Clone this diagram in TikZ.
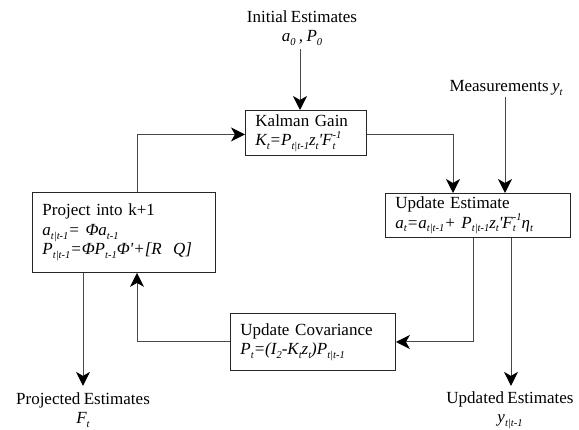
\documentclass[tikz,border=0pt]{standalone}
\usepackage{fontspec}
\setmainfont[WordSpace={0.8,0.8,0.8}]{Liberation Serif}
\usetikzlibrary{arrows.meta}
\newcommand{\mylo}[1]{\raisebox{-0.22em}{\fontsize{10.5}{10.5}\selectfont #1}}
\newcommand{\myhi}[1]{\raisebox{0.42em}{\fontsize{10.5}{10.5}\selectfont #1}}
\newcommand{\mylohi}[2]{\rlap{\mylo{#1}}\myhi{#2}}
\newcommand{\myprime}{\textquotesingle}
\begin{document}
\begin{tikzpicture}[x=1pt,y=-1pt,
  every node/.style={font=\fontsize{17}{19.5}\selectfont},
  box/.style={draw=black!85, line width=0.9pt, rectangle, align=left, inner xsep=10pt, inner ysep=2pt, anchor=north west},
  lbl/.style={align=center, inner sep=1pt},
  flow/.style={draw=black!72, line width=1pt, -{Stealth[length=14pt,width=14pt,inset=4pt,color=black]}}]
\useasboundingbox (0,0) rectangle (579,430);
\fill[white] (0,0) rectangle (579,430);
% boxes
\node[box, text width=101pt, minimum height=45pt] (kal) at (245,110)
  {Kalman Gain\\\textit{K\mylo{t}=P\mylo{t|t-1}z\mylo{t}\myprime F\mylohi{t}{-1}}};
\node[box, text width=165pt, minimum height=44pt] (upd) at (385,193)
  {Update Estimate\\\textit{a\mylo{t}=a\mylo{t|t-1}+ P\mylo{t|t-1}z\mylo{t}\myprime F\mylohi{t}{-1}η\mylo{t}}};
\node[box, text width=163pt, minimum height=80pt] (proj) at (32,192)
  {Project into k+1\\\textit{a\mylo{t|t-1}= Φa\mylo{t-1}}\\\textit{P\mylo{t|t-1}=ΦP\mylo{t-1}Φ\myprime+[R\ \ Q]}};
\node[box, text width=145pt, minimum height=57pt] (cov) at (230,313)
  {Update Covariance\\\textit{P\mylo{t}=(I\mylo{2}-K\mylo{t}z\mylo{t})P\mylo{t|t-1}}};
% labels
\node[lbl] (init) at (302,28) {Initial Estimates\\\textit{a\mylo{0} , P\mylo{0}}};
\node[lbl] (meas) at (506,88) {Measurements \textit{y\mylo{t}}};
\node[lbl] (projtxt) at (83,410) {Projected Estimates\\\textit{F\mylo{t}}};
\node[lbl] (updtxt) at (510,410) {Updated Estimates\\\textit{y\mylo{t|t-1}}};
% connectors
\draw[flow] ([xshift=-2pt,yshift=-2pt]init.south) -- ([xshift=-2pt]init.south |- kal.north);
\draw[flow] ([xshift=-1pt]meas.south) -- ([xshift=-1pt]meas.south |- upd.north);
\draw[flow] ([yshift=-1.5pt]kal.east) -| ([xshift=68pt]upd.north west);
\draw[flow] ([xshift=105pt]proj.north west) |- ([yshift=-1.5pt]kal.west);
\draw[flow] ([xshift=88pt]upd.south west) |- (cov.east);
\draw[flow] ([xshift=126pt]upd.south west) -- ([xshift=126pt,yshift=-148pt]upd.south west);
\draw[flow] (cov.west) -| ([xshift=105pt]proj.south west);
\draw[flow] ([xshift=51pt]proj.south west) -- ([xshift=51pt,yshift=-113pt]proj.south west);
\end{tikzpicture}
\end{document}
